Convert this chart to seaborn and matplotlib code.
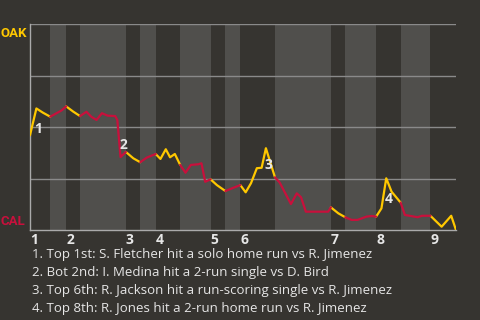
import matplotlib
matplotlib.use("Agg")
import matplotlib.pyplot as plt
import seaborn as sns
import pandas as pd
import numpy as np

# ---- data ----
play_x = [0, 1.2, 2.4, 3.8, 5.9, 6.8, 8.1, 9.4, 10.6, 11.5, 12.5, 13.5, 14.6, 16.0, 16.4,
          17.0, 18.0, 19.4, 20.7, 21.9, 23.6, 24.5, 25.5, 26.3, 27.2, 28.2, 29.2, 30.2,
          31.6, 32.2, 32.9, 33.9, 35.1, 36.7, 37.9, 39.5, 40.5, 41.5, 42.6, 43.5, 44.3,
          46.0, 46.9, 49.0, 50.1, 50.9, 51.8, 56.0, 56.5, 57.9, 59.2, 60.4, 61.5, 63.2,
          64.2, 65.0, 66.0, 66.9, 67.9, 69.6, 70.4, 71.5, 72.8, 73.6, 75.2, 77.3, 79.1, 80.0]
oak_win_prob = [0.46, 0.59, 0.57, 0.55, 0.58, 0.60, 0.575, 0.553, 0.574, 0.55, 0.534, 0.567,
                0.555, 0.553, 0.534, 0.354, 0.379, 0.348, 0.329, 0.351, 0.369, 0.345, 0.392,
                0.353, 0.369, 0.316, 0.278, 0.316, 0.319, 0.324, 0.234, 0.246, 0.218, 0.189,
                0.202, 0.218, 0.183, 0.227, 0.300, 0.302, 0.397, 0.256, 0.230, 0.126, 0.178,
                0.159, 0.089, 0.089, 0.110, 0.081, 0.062, 0.049, 0.049, 0.065, 0.068, 0.065,
                0.105, 0.251, 0.186, 0.133, 0.073, 0.068, 0.062, 0.069, 0.069, 0.016, 0.069, 0.0]
# half-inning boundaries (top 1st, bot 1st, top 2nd, ...), last = end of game
half_edges = [0, 3.8, 6.8, 9.4, 18.0, 20.7, 23.6, 28.2, 33.9, 36.7, 39.5, 46.0,
              56.5, 59.2, 65.0, 69.6, 75.2, 80.0]
innings = ["1", "2", "3", "4", "5", "6", "7", "8", "9"]
team_top = "OAK"
team_bottom = "CAL"
event_ids = ["1", "2", "3", "4"]
event_label_x = [1.6, 17.6, 44.8, 67.4]
event_label_y = [0.49, 0.413, 0.316, 0.15]
notes = [
    "1. Top 1st: S. Fletcher hit a solo home run vs R. Jimenez",
    "2. Bot 2nd: I. Medina hit a 2-run single vs D. Bird",
    "3. Top 6th: R. Jackson hit a run-scoring single vs R. Jimenez",
    "4. Top 8th: R. Jones hit a 2-run home run vs R. Jimenez",
]

# ---- style ----
BG = "#363430"
BAND = "#504f4c"
GOLD = "#ffc800"
RED = "#c8103c"
TXT = "#e6e6e6"

sns.set_style("dark")
plt.rcParams["font.family"] = ["Open Sans", "DejaVu Sans"]

fig = plt.figure(figsize=(4.8, 3.2), dpi=100, facecolor=BG)
ax = fig.add_axes([30 / 480, 1 - 230 / 320, 426 / 480, 206 / 320])
ax.set_facecolor(BG)

# bands for bottom halves
for i in range(len(half_edges) - 1):
    if i % 2 == 1:
        ax.axvspan(half_edges[i], half_edges[i + 1], color=BAND, lw=0, zorder=0)

# build segments per half inning
rows = []
px = np.array(play_x)
pv = np.array(oak_win_prob)
for i in range(len(half_edges) - 1):
    lo, hi = half_edges[i], half_edges[i + 1]
    m = (px >= lo - 1e-9) & (px <= hi + 1e-9)
    for xx, vv in zip(px[m], pv[m]):
        rows.append({"x": xx, "p": vv, "half": i, "side": "top" if i % 2 == 0 else "bot"})
df = pd.DataFrame(rows)

for y in [0.25, 0.5, 0.75, 1.0]:
    ax.axhline(y, color="#8a8a8a", lw=1.0, zorder=1)

sns.lineplot(data=df, x="x", y="p", hue="side", units="half", estimator=None,
             palette={"top": GOLD, "bot": RED}, linewidth=1.6, legend=False, ax=ax,
             zorder=3, sort=False)

ax.set_xlim(0, 80)
ax.set_ylim(0, 1)
ax.set_xlabel("")
ax.set_ylabel("")
ax.set_yticks([])
ax.grid(False)
for s in ["top", "right"]:
    ax.spines[s].set_visible(False)
for s in ["left", "bottom"]:
    ax.spines[s].set_visible(True)
    ax.spines[s].set_color("#aaaaaa")
    ax.spines[s].set_linewidth(1.0)

inning_starts = half_edges[0:-1:2]
ax.set_xticks(inning_starts, labels=innings)
ax.tick_params(axis="x", length=0, pad=2, colors=TXT, labelsize=10)
for lab in ax.get_xticklabels():
    lab.set_ha("left")
    lab.set_fontweight("bold")

for t, xx, yy in zip(event_ids, event_label_x, event_label_y):
    ax.text(xx, yy, t, color=TXT, fontsize=10, fontweight="bold", ha="center", va="center", zorder=4)

narrow = ["Roboto", "DejaVu Sans"]
ax.text(-0.006, 0.985, team_top, transform=ax.transAxes, ha="right", va="top",
        color=GOLD, fontsize=9.5, fontweight="bold", family=narrow)
ax.text(-0.01, 0.012, team_bottom, transform=ax.transAxes, ha="right", va="bottom",
        color=RED, fontsize=9.5, fontweight="bold", family=narrow)

for k, line in enumerate(notes):
    fig.text(32 / 480, 1 - (258 + 18 * k) / 320, line, color=TXT, fontsize=9.5,
             ha="left", va="baseline")

fig.savefig("out.png", dpi=100, facecolor=BG)
